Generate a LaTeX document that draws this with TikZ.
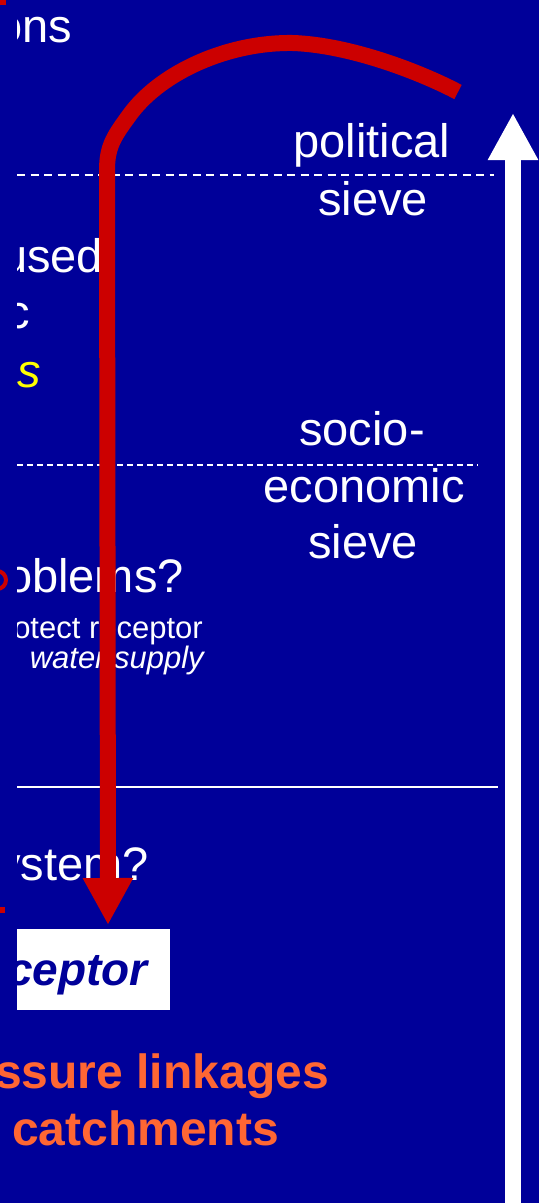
\documentclass[tikz,border=0pt]{standalone}
\usepackage{fontspec}
\setmainfont{Liberation Sans}
\usetikzlibrary{arrows.meta}
\definecolor{slideblue}{HTML}{000099}
\definecolor{arrowred}{HTML}{CC0000}
\definecolor{linkorange}{HTML}{FF6633}
\definecolor{noteyellow}{HTML}{FFFF00}
\tikzset{
  bigtext/.style={text=white, inner sep=0pt, font=\fontsize{47}{56}\selectfont},
  smalltext/.style={text=white, inner sep=0pt, font=\fontsize{31}{37}\selectfont},
  linktext/.style={text=linkorange, inner sep=0pt, font=\fontsize{48}{57}\selectfont\bfseries},
  sieveline/.style={draw=white, line width=2pt},
  redarrow/.style={draw=arrowred, line width=16pt, -{Triangle[length=47pt,width=47pt]}},
  uparrow/.style={draw=white, line width=16pt, -{Triangle[length=47pt,width=47pt]}}
}
\begin{document}
\begin{tikzpicture}[x=1pt,y=-1pt]
\useasboundingbox (0,0) rectangle (539,1203);
\clip (0,0) rectangle (539,1203);
\fill[slideblue] (0,0) rectangle (539,1203);

% cut-off parts at the left edge
\begin{scope}
\clip (17,0) rectangle (539,1203);
\node[bigtext, anchor=base east] (ons) at (72,42) {ons};
\node[bigtext, anchor=base west] (used) at (1,272) {used};
\node[bigtext, anchor=base west] (c) at (6,328) {c};
\node[bigtext, anchor=base west, text=noteyellow, font=\fontsize{47}{56}\selectfont\itshape] (s) at (17,387) {s};
\node[bigtext, anchor=base east] (problems) at (184,592) {problems?};
\node[smalltext, anchor=base east] (protect) at (203,638) {protect receptor};
\node[smalltext, anchor=base east, font=\fontsize{31}{37}\selectfont\itshape] (water) at (204,668) {water supply};
\node[bigtext, anchor=base east] (system) at (149,880) {system?};
\node[fill=white, text=slideblue, font=\fontsize{46}{55}\selectfont\bfseries\itshape,
      inner xsep=22pt, inner ysep=0pt, text height=56pt, text depth=25pt,
      anchor=north east] (receptor) at (170,929) {receptor};
\draw[sieveline, dash pattern=on 8pt off 5.5pt] (17,175) -- (494,175);
\draw[sieveline, dash pattern=on 6pt off 4pt] (17,465) -- (478,465);
\draw[sieveline] (17,787) -- (498,787);
\end{scope}

\fill[arrowred] (0,0) rectangle (6,5);
\fill[arrowred] (0,907) rectangle (5,913);
\draw[arrowred, line width=4pt] (-3,580) circle (9);

% sieves
\node[bigtext, anchor=base] (pol) at (372,157) {political};
\node[bigtext, anchor=base] (polsieve) at (373,215) {sieve};
\node[bigtext, anchor=base] (socio) at (362,445) {socio-};
\node[bigtext, anchor=base] (econ) at (364,502) {economic};
\node[bigtext, anchor=base] (econsieve) at (363,558) {sieve};

% pressure linkages
\node[linktext, anchor=base east] (pressure) at (329,1088) {pressure linkages};
\node[linktext, anchor=base west] (catch) at (12,1145) {catchments};

% arrows
\coordinate (rstart) at (458,92);
\coordinate (rtip) at (108,925);
\coordinate (ubase) at (513,1210);
\coordinate (utip) at (513,113);
\draw[redarrow] (rstart) .. controls (420,72) and (350,45) .. (293,43)
  .. controls (228,42) and (162,72) .. (131,113)
  .. controls (115,135) and (107,145) .. (107,170) -- (rtip);
\draw[uparrow] (ubase) -- (utip);
\end{tikzpicture}
\end{document}
